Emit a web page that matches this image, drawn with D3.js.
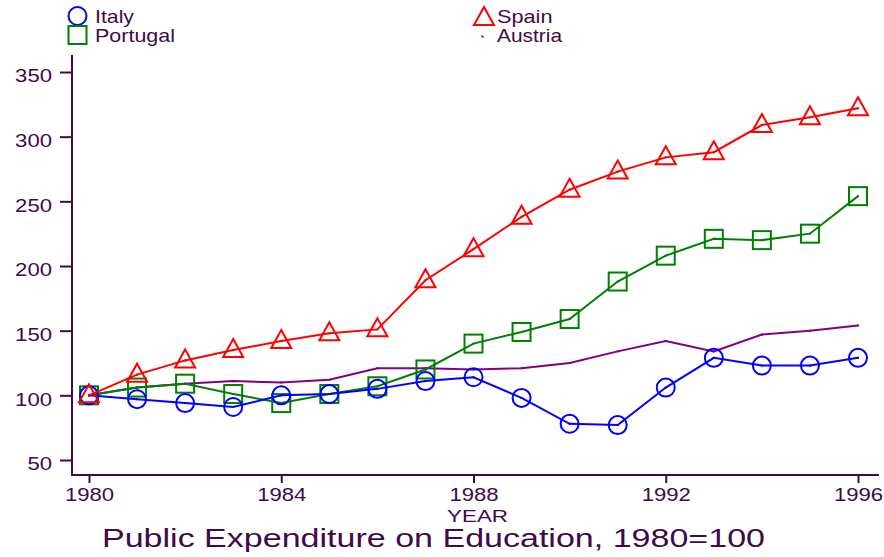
<!DOCTYPE html>
<html><head><meta charset="utf-8">
<script src="https://cdn.jsdelivr.net/npm/d3@7"></script>
<style>body{margin:0;background:#fff}svg{display:block}text{font-family:"Liberation Sans",Arial,sans-serif}</style>
</head><body>
<svg id="c" width="884" height="557"></svg>
<script>
const years = [1980,1981,1982,1983,1984,1985,1986,1987,1988,1989,1990,1991,1992,1993,1994,1995,1996];
const italy    = [100,97,94,91,100,101,105,111,114,98,78,77,106,129,123,123,129];
const spain    = [100,116,127,135,142,148,151,189,213,238,259,273,284,288,309,315,322];
const portugal = [100,106,109,101,94,101,107,120,140,149,159,188,208,221,220,225,254];
const austria  = [100,106,109,111,110,112,121,121,120,121,125,134,142,134,147,150,154];
const yTicks = [50,100,150,200,250,300,350];
const xTicks = [1980,1984,1988,1992,1996];
const TXT = "#3f0a48";

const svg = d3.select("#c");
const x = d3.scaleLinear().domain([1980,1996]).range([89,858]);
const y = d3.scaleLinear().domain([50,350]).range([460,72]);

function stretch(sel, w){
  sel.attr("textLength", w).attr("lengthAdjust","spacingAndGlyphs");
}

// axes
const yAxis = svg.append("g").attr("transform","translate(72,0)")
  .call(d3.axisLeft(y).tickValues(yTicks).tickSize(12).tickPadding(8).tickFormat(d3.format("d")));
const xAxis = svg.append("g").attr("transform","translate(0,475)")
  .call(d3.axisBottom(x).tickValues(xTicks).tickSize(8).tickPadding(5).tickFormat(d3.format("d")));
[yAxis,xAxis].forEach(g=>{
  g.select(".domain").remove();
  g.selectAll(".tick line").attr("stroke",TXT).attr("stroke-width",2);
  g.selectAll(".tick text").attr("fill",TXT).attr("font-size",19)
    .attr("font-family","Liberation Sans, Arial, sans-serif")
    .each(function(d){ stretch(d3.select(this), String(d).length*12.3); });
});
yAxis.selectAll(".tick text").attr("dy","0.52em");
xAxis.selectAll(".tick text").attr("dy","0.70em");
svg.append("line").attr("x1",72).attr("x2",72).attr("y1",55).attr("y2",476).attr("stroke",TXT).attr("stroke-width",2);
svg.append("line").attr("x1",71).attr("x2",879).attr("y1",475).attr("y2",475).attr("stroke",TXT).attr("stroke-width",2);

const series = [
  {name:"Austria", vals:austria, color:"#800080", sym:"none"},
  {name:"Portugal", vals:portugal, color:"#008000", sym:"square"},
  {name:"Italy", vals:italy, color:"#0000ff", sym:"circle"},
  {name:"Spain", vals:spain, color:"#ff0000", sym:"triangle"}
];
const line = d3.line().x((d,i)=>x(years[i])).y(d=>y(d));

function drawSym(g, sym, cx, cy, color){
  if(sym==="circle") g.append("circle").attr("cx",cx).attr("cy",cy).attr("r",9).attr("fill","none").attr("stroke",color).attr("stroke-width",2);
  else if(sym==="square") g.append("rect").attr("x",cx-9).attr("y",cy-9).attr("width",18).attr("height",18).attr("fill","none").attr("stroke",color).attr("stroke-width",2);
  else if(sym==="triangle") g.append("path").attr("d",`M${cx},${cy-11}L${cx+10},${cy+7}L${cx-10},${cy+7}Z`).attr("fill","none").attr("stroke",color).attr("stroke-width",2);
}

series.forEach(s=>{
  const g = svg.append("g");
  g.append("path").attr("d",line(s.vals)).attr("fill","none").attr("stroke",s.color).attr("stroke-width",2);
  s.vals.forEach((v,i)=>{
    const cx = x(years[i]), cy = y(v);
    drawSym(g, s.sym, cx, cy, s.color);
    g.append("rect").attr("x",cx-1).attr("y",cy-1).attr("width",2).attr("height",2).attr("fill",s.color);
  });
});

// legend
const lg = svg.append("g");
drawSym(lg,"circle",77.5,16,"#0000ff");
drawSym(lg,"square",77.5,35,"#008000");
drawSym(lg,"triangle",484,18,"#ff0000");
lg.append("line").attr("x1",481.5).attr("y1",35.5).attr("x2",483.5).attr("y2",37.5).attr("stroke","#800080").attr("stroke-width",1.5);
[["Italy",95,23.3,39],["Portugal",95,41.7,80],["Spain",497,23.3,55.5],["Austria",497,41.7,65]].forEach(([t,tx,ty,w])=>{
  stretch(lg.append("text").attr("x",tx).attr("y",ty).attr("fill",TXT).attr("font-size",19).text(t), w);
});

stretch(svg.append("text").attr("x",447).attr("y",521.5).attr("fill",TXT).attr("font-size",17).text("YEAR"), 61);
stretch(svg.append("text").attr("x",102).attr("y",547).attr("fill",TXT).attr("font-size",25.5).text("Public Expenditure on Education, 1980=100"), 663);
</script>
</body></html>
